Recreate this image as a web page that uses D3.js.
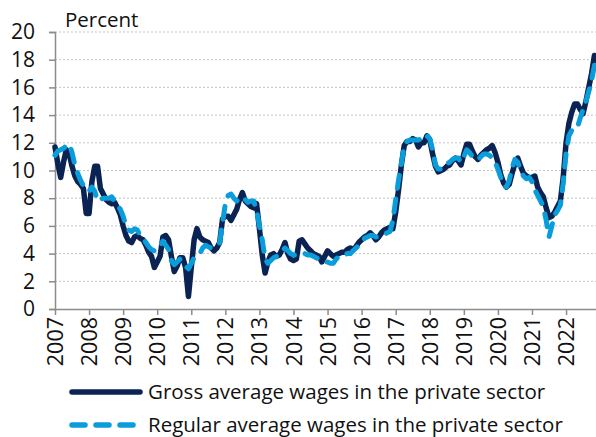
<!DOCTYPE html>
<html>
<head>
<meta charset="utf-8">
<script src="https://cdn.jsdelivr.net/npm/d3@7"></script>
<style>
  body { margin: 0; background: #fff; }
  svg { display: block; font-family: "Open Sans", sans-serif; }
</style>
</head>
<body>
<svg id="chart"></svg>
<script>
// monthly year-on-year growth, Jan 2007 .. Nov 2022
const yearLabels = ["2007","2008","2009","2010","2011","2012","2013","2014","2015","2016","2017","2018","2019","2020","2021","2022"];
const yTicks = [0, 2, 4, 6, 8, 10, 12, 14, 16, 18, 20];

const gross = [
  11.7, 10.5, 9.5, 10.6, 11.5, 11.2, 10.3, 9.6, 9.2, 9.0, 8.7, 6.9,
  6.9, 9.2, 10.3, 10.3, 8.7, 8.3, 7.9, 7.7, 7.6, 7.7, 7.3, 6.8,
  6.0, 5.3, 4.9, 4.8, 5.2, 5.3, 5.1, 5.0, 4.6, 4.1, 3.8, 3.0,
  3.4, 3.8, 5.2, 5.3, 5.0, 3.8, 2.7, 3.1, 3.7, 3.7, 3.0, 0.9,
  3.0, 5.0, 5.8, 5.2, 5.0, 4.9, 4.8, 4.4, 4.2, 4.4, 4.8, 6.5,
  6.7, 6.7, 6.4, 6.8, 7.2, 7.9, 8.4, 7.8, 7.6, 7.4, 7.3, 7.6,
  5.8, 3.9, 2.6, 3.4, 3.9, 4.0, 3.8, 3.9, 4.3, 4.8, 4.0, 3.6,
  3.5, 3.6, 4.9, 5.0, 4.7, 4.4, 4.2, 4.0, 3.9, 3.8, 3.4, 3.8,
  4.2, 4.0, 3.8, 3.9, 4.0, 4.1, 4.1, 4.3, 4.4, 4.3, 4.5, 4.8,
  5.0, 5.2, 5.3, 5.5, 5.3, 5.0, 5.2, 5.5, 5.7, 5.8, 5.9, 5.8,
  7.0, 8.6, 10.4, 11.8, 12.1, 12.1, 12.3, 12.2, 11.7, 12.0, 12.0, 12.5,
  12.2, 11.2, 10.3, 9.9, 10.0, 10.1, 10.3, 10.4, 10.7, 10.9, 10.7, 10.4,
  11.2, 11.9, 11.9, 11.4, 11.0, 10.8, 11.1, 11.3, 11.5, 11.6, 11.8, 11.3,
  10.6, 9.7, 9.1, 8.8, 9.0, 9.8, 10.5, 10.9, 10.3, 9.8, 9.6, 9.5,
  9.5, 9.6, 8.8, 8.4, 8.1, 7.3, 6.6, 6.7, 7.0, 7.4, 7.8, 9.5,
  12.0, 13.4, 14.2, 14.8, 14.8, 14.4, 14.1, 15.0, 16.0, 17.0, 18.3
];

const regular = [
  11.1, 11.4, 11.5, 11.6, 11.8, 11.9, 11.3, 10.4, 9.8, 9.3, 8.9, 8.6,
  8.5, 8.8, 8.5, 7.8, 7.9, 8.0, 8.0, 8.0, 8.1, 7.8, 7.5, 7.2,
  6.7, 6.0, 5.7, 5.6, 5.8, 5.7, 5.3, 5.1, 4.8, 4.5, 4.3, 4.2,
  4.3, 4.6, 4.9, 4.6, 4.3, 3.5, 3.2, 3.4, 3.6, 3.3, 3.1, 2.9,
  3.3, 3.7, 3.8, 4.0, 4.4, 4.6, 4.5, 4.4, 4.5, 4.6, 4.8, 6.2,
  7.6, 8.2, 8.3, 8.0, 7.8, 8.0, 8.1, 7.9, 7.7, 7.8, 7.8, 7.1,
  6.0, 5.0, 3.6, 3.3, 3.5, 3.7, 3.8, 4.0, 4.2, 4.4, 4.2, 4.0,
  3.9, 3.9, 3.9, 4.0, 4.0, 3.9, 3.9, 3.8, 3.7, 3.6, 3.5, 3.4,
  3.4, 3.3, 3.3, 3.6, 3.8, 3.9, 3.9, 4.0, 4.0, 4.2, 4.4, 4.6,
  4.8, 5.1, 5.2, 5.3, 5.3, 5.2, 5.2, 5.3, 5.4, 5.5, 5.6, 6.4,
  7.9, 9.3, 10.5, 11.8, 12.1, 12.2, 12.2, 12.2, 12.2, 12.3, 12.6, 12.5,
  12.3, 11.5, 10.4, 10.1, 10.1, 10.3, 10.5, 10.6, 10.8, 10.9, 10.9, 10.6,
  11.0, 11.5, 11.3, 11.0, 10.8, 10.8, 11.0, 11.2, 11.2, 11.1, 10.9, 10.6,
  10.1, 9.5, 8.9, 8.8, 9.3, 10.2, 10.8, 10.6, 10.0, 9.6, 9.4, 9.5,
  9.2, 8.6, 8.2, 7.8, 7.4, 6.4, 5.2, 6.0, 6.8, 7.1, 7.5, 9.1,
  11.2, 12.5, 12.9, 12.9, 13.1, 13.8, 14.4, 15.0, 15.7, 16.5, 17.6
];

const legendLabels = ["Gross average wages in the private sector", "Regular average wages in the private sector"];
const colors = ["#0b2352", "#0a9ddb"];

const W = 596, H = 437;
const plotLeft = 55, plotTop = 32, plotBottom = 309;
const monthW = 34.07 / 12;

const svg = d3.select("#chart").attr("width", W).attr("height", H);

const x = d3.scaleLinear().domain([0, 192]).range([plotLeft, plotLeft + 192 * monthW]);
const y = d3.scaleLinear().domain([0, 20]).range([plotBottom, plotTop]);

// gridlines
svg.append("g")
  .selectAll("line")
  .data(yTicks.filter((d) => d > 0))
  .join("line")
  .attr("x1", plotLeft)
  .attr("x2", W)
  .attr("y1", (d) => y(d))
  .attr("y2", (d) => y(d))
  .attr("stroke", "#c6c6c6")
  .attr("stroke-width", 1)
  .attr("stroke-dasharray", "2,2");

// y axis
const yAxis = svg.append("g")
  .attr("transform", `translate(${plotLeft},0)`)
  .call(d3.axisLeft(y).tickValues(yTicks).tickSize(6).tickPadding(14));
yAxis.select(".domain").attr("stroke", "#8c8c8c").attr("stroke-width", 1.5);
yAxis.selectAll(".tick line").attr("stroke", "#8c8c8c").attr("stroke-width", 1.5);
yAxis.selectAll("text")
  .attr("fill", "#111")
  .style("font-size", "21px")
  .style("font-family", "'Open Sans', sans-serif");

// x axis
const xAxis = svg.append("g")
  .attr("transform", `translate(0,${plotBottom})`)
  .call(
    d3.axisBottom(x)
      .tickValues(d3.range(0, 192, 12))
      .tickFormat((d) => yearLabels[d / 12])
      .tickSize(6)
      .tickSizeOuter(0)
  );
xAxis.select(".domain").attr("stroke", "#8c8c8c").attr("stroke-width", 1.5);
xAxis.selectAll(".tick line").attr("stroke", "#8c8c8c").attr("stroke-width", 1.5);
xAxis.selectAll("text")
  .attr("fill", "#111")
  .style("font-size", "21.5px")
  .style("font-family", "'Open Sans', sans-serif")
  .attr("text-anchor", "end")
  .attr("dy", "0.35em")
  .attr("transform", "translate(0,8) rotate(-90)")
  .attr("x", 0)
  .attr("y", 0);

svg.append("text")
  .attr("x", 65)
  .attr("y", 27)
  .attr("fill", "#111")
  .style("font-size", "20.5px")
  .text("Percent");

const line = d3.line()
  .x((d, i) => x(i))
  .y((d) => y(d));

const plot = svg.append("g");

plot.append("path")
  .datum(gross)
  .attr("d", line)
  .attr("fill", "none")
  .attr("stroke", colors[0])
  .attr("stroke-width", 5.5)
  .attr("stroke-linejoin", "round")
  .attr("stroke-linecap", "round");

plot.append("path")
  .datum(regular)
  .attr("d", line)
  .attr("fill", "none")
  .attr("stroke", colors[1])
  .attr("stroke-width", 5)
  .attr("stroke-linejoin", "round")
  .attr("stroke-linecap", "round")
  .attr("stroke-dasharray", "13,11");

// legend
const legend = svg.append("g").attr("transform", "translate(72,392)");
const rows = legend.selectAll("g")
  .data(legendLabels)
  .join("g")
  .attr("transform", (d, i) => `translate(0,${i * 33})`);

rows.append("line")
  .attr("x1", 0)
  .attr("x2", 68)
  .attr("stroke", (d, i) => colors[i])
  .attr("stroke-width", 5.5)
  .attr("stroke-linecap", "round")
  .attr("stroke-dasharray", (d, i) => (i === 1 ? "13,11" : null));

rows.append("text")
  .attr("x", 76)
  .attr("dy", "0.35em")
  .attr("fill", "#111")
  .style("font-size", "20.5px")
  .text((d) => d);
</script>
</body>
</html>
